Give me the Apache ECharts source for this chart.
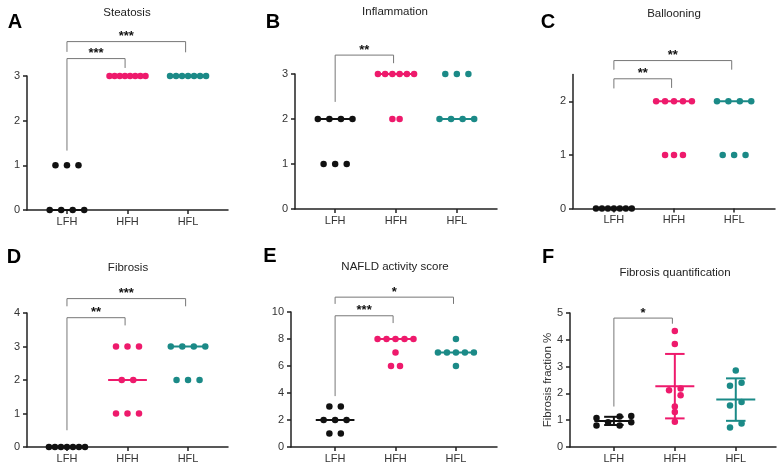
<!DOCTYPE html>
<html>
<head>
<meta charset="utf-8">
<script src="https://cdn.jsdelivr.net/npm/echarts@6/dist/echarts.min.js"></script>
<style>
  html, body { margin: 0; padding: 0; background: #fff; }
  #chart { width: 784px; height: 473px; }
</style>
</head>
<body>
<div id="chart"></div>
<script>
const groups = ['LFH', 'HFH', 'HFL']
const colors = ['#111111', '#ee1a6c', '#1b8a87']
const fontFamily = '"Liberation Sans", Arial, sans-serif'

// scores per group, order LFH, HFH, HFL
const steatosis = [[0, 0, 0, 0, 1, 1, 1], [3, 3, 3, 3, 3, 3, 3, 3], [3, 3, 3, 3, 3, 3, 3]]
const inflammation = [[1, 1, 1, 2, 2, 2, 2], [2, 2, 3, 3, 3, 3, 3, 3], [2, 2, 2, 2, 3, 3, 3]]
const ballooning = [[0, 0, 0, 0, 0, 0, 0], [1, 1, 1, 2, 2, 2, 2, 2], [1, 1, 1, 2, 2, 2, 2]]
const fibrosis = [[0, 0, 0, 0, 0, 0, 0], [1, 1, 1, 2, 2, 3, 3, 3], [2, 2, 2, 3, 3, 3, 3]]
const nafld = [[1, 1, 2, 2, 2, 3, 3], [6, 6, 7, 8, 8, 8, 8, 8], [6, 7, 7, 7, 7, 7, 8]]
const fibrosisPct = [
  [1.08, 0.80, 0.92, 1.14, 0.80, 1.16, 0.92],
  [4.33, 3.84, 2.12, 2.18, 1.93, 1.51, 1.31, 0.94],
  [2.85, 2.29, 2.40, 1.55, 1.68, 0.73, 0.88]
]
// swarm slot of each point in fibrosisPct (left < 0 < right)
const fibrosisPctSlot = [[-3, -3, -1, 1, 1, 3, 3], [0, 0, -1, 1, 1, 0, 0, 0], [0, -1, 1, -1, 1, -1, 1]]

// significance: [group a, group b, stars]
const steatosisSig = [[0, 1, '***'], [0, 2, '***']]
const inflammationSig = [[0, 1, '**']]
const ballooningSig = [[0, 1, '**'], [0, 2, '**']]
const fibrosisSig = [[0, 1, '**'], [0, 2, '***']]
const nafldSig = [[0, 1, '***'], [0, 2, '*']]
const fibrosisPctSig = [[0, 1, '*']]

// layout: grid rect [left, top, width, height], x range, bracket levels [bar, left leg end, right leg end]
const panels = [
  { letter: 'A', title: 'Steatosis', data: steatosis, sig: steatosisSig, yMax: 3, yTicks: [0, 1, 2, 3],
    rect: [27, 76, 201, 134], xr: [-0.66, 2.66], titlePos: [127, 13], letterPos: [15, 22],
    brackets: [[3.39, 1.33, 3.18], [3.77, 3.54, 3.53]] },
  { letter: 'B', title: 'Inflammation', data: inflammation, sig: inflammationSig, yMax: 3, yTicks: [0, 1, 2, 3],
    rect: [295, 74, 202, 135], xr: [-0.66, 2.66], titlePos: [395, 12], letterPos: [273, 22],
    brackets: [[3.42, 2.38, 3.24]] },
  { letter: 'C', title: 'Ballooning', data: ballooning, sig: ballooningSig, yMax: 2.5, yTicks: [0, 1, 2],
    rect: [573, 74.5, 202, 134], xr: [-0.68, 2.68], titlePos: [674, 14], letterPos: [548, 22],
    brackets: [[2.42, 2.24, 2.25], [2.76, 2.59, 2.59]] },
  { letter: 'D', title: 'Fibrosis', data: fibrosis, sig: fibrosisSig, yMax: 4, yTicks: [0, 1, 2, 3, 4],
    rect: [27, 313, 201, 134], xr: [-0.66, 2.66], titlePos: [128, 268], letterPos: [14, 257],
    brackets: [[3.86, 0.5, 3.63], [4.43, 4.2, 4.2]] },
  { letter: 'E', title: 'NAFLD activity score', data: nafld, sig: nafldSig, yMax: 10, yTicks: [0, 2, 4, 6, 8, 10],
    rect: [291, 312, 206, 135], xr: [-0.73, 2.68], titlePos: [395, 267], letterPos: [270, 256],
    brackets: [[9.72, 3.77, 9.18], [11.1, 10.6, 10.6]] },
  { letter: 'F', title: 'Fibrosis quantification', data: fibrosisPct, sig: fibrosisPctSig, yMax: 5, yTicks: [0, 1, 2, 3, 4, 5],
    rect: [570, 313, 206, 134], xr: [-0.72, 2.66], titlePos: [675, 273], letterPos: [548, 257],
    brackets: [[4.81, 1.51, 4.6]], yName: 'Fibrosis fraction %', meanSd: true, slots: fibrosisPctSlot }
]

function median(arr) {
  const s = arr.slice().sort((a, b) => a - b)
  const m = s.length >> 1
  return s.length % 2 ? s[m] : (s[m - 1] + s[m]) / 2
}
function mean(arr) { return arr.reduce((a, b) => a + b, 0) / arr.length }
function sd(arr) {
  const m = mean(arr)
  return Math.sqrt(arr.reduce((a, b) => a + (b - m) * (b - m), 0) / (arr.length - 1))
}

// spread equal scores side by side around the group centre
function spread(values, g) {
  const rows = {}
  values.forEach(v => { (rows[v] = rows[v] || []).push(v) })
  const maxN = Math.max(...Object.values(rows).map(r => r.length))
  const step = maxN > 1 ? Math.min(0.19, 0.595 / (maxN - 1)) : 0
  const pts = []
  Object.keys(rows).forEach(k => {
    const r = rows[k]
    r.forEach((v, i) => pts.push([g + (i - (r.length - 1) / 2) * step, v]))
  })
  return pts
}

const grids = [], xAxes = [], yAxes = [], series = [], graphics = []
const axisColor = '#222'

panels.forEach((p, k) => {
  grids.push({ left: p.rect[0], top: p.rect[1], width: p.rect[2], height: p.rect[3] })
  xAxes.push({
    gridIndex: k, type: 'value', min: p.xr[0], max: p.xr[1],
    splitLine: { show: false },
    axisLine: { onZero: false, lineStyle: { color: axisColor, width: 1.5 } },
    axisTick: { customValues: [0, 1, 2], length: 4, lineStyle: { color: axisColor, width: 1.5 } },
    axisLabel: { customValues: [0, 1, 2], formatter: v => groups[Math.round(v)], margin: 6,
      color: '#333', fontSize: 11, fontFamily: fontFamily }
  })
  yAxes.push({
    gridIndex: k, type: 'value', min: 0, max: p.yMax,
    name: p.yName || '', nameLocation: 'middle', nameGap: 16, nameRotate: 90, nameMoveOverlap: false,
    nameTextStyle: { color: '#333', fontSize: 11.5, fontFamily: fontFamily },
    splitLine: { show: false },
    axisLine: { show: true, onZero: false, lineStyle: { color: axisColor, width: 1.5 } },
    axisTick: { show: true, customValues: p.yTicks, length: 4, lineStyle: { color: axisColor, width: 1.5 } },
    axisLabel: { customValues: p.yTicks, margin: 7, color: '#333', fontSize: 11, fontFamily: fontFamily }
  })

  // centre lines: median, or mean with SD whiskers in F
  const centres = p.data.map((vals, g) => p.meanSd ? [g, mean(vals), sd(vals)] : [g, median(vals), 0])
  series.push({
    type: 'custom', xAxisIndex: k, yAxisIndex: k, z: 2,
    data: centres,
    renderItem: (params, api) => {
      const g = api.value(0), m = api.value(1), s = api.value(2)
      const style = { stroke: colors[g], lineWidth: 2 }
      const a = api.coord([g - 0.32, m]), b = api.coord([g + 0.32, m])
      const children = [{ type: 'line', shape: { x1: a[0], y1: a[1], x2: b[0], y2: b[1] }, style }]
      if (p.meanSd) {
        const top = api.coord([g, m + s]), bot = api.coord([g, m - s])
        const half = (b[0] - a[0]) / 4
        children.push({ type: 'line', shape: { x1: top[0], y1: top[1], x2: bot[0], y2: bot[1] }, style })
        children.push({ type: 'line', shape: { x1: top[0] - half, y1: top[1], x2: top[0] + half, y2: top[1] }, style })
        children.push({ type: 'line', shape: { x1: bot[0] - half, y1: bot[1], x2: bot[0] + half, y2: bot[1] }, style })
      }
      return { type: 'group', children }
    }
  })

  p.data.forEach((vals, g) => {
    const pts = p.slots
      ? vals.map((v, i) => [g + p.slots[g][i] * 0.095, v])
      : spread(vals, g)
    series.push({
      type: 'scatter', xAxisIndex: k, yAxisIndex: k, z: 3, clip: false,
      symbolSize: 6.5, itemStyle: { color: colors[g], opacity: 1 },
      data: pts
    })
  })

  // significance brackets
  series.push({
    type: 'custom', xAxisIndex: k, yAxisIndex: k, z: 1,
    data: p.sig.map((s, i) => [s[0], p.brackets[i][0], s[1], i]),
    renderItem: (params, api) => {
      const s = p.sig[params.dataIndex], b = p.brackets[params.dataIndex]
      const x1 = s[0], x2 = s[1] - 0.04
      const l = api.coord([x1, b[1]]), tl = api.coord([x1, b[0]])
      const tr = api.coord([x2, b[0]]), r = api.coord([x2, b[2]])
      return {
        type: 'group',
        children: [
          { type: 'polyline', shape: { points: [l, tl, tr, r] },
            style: { stroke: '#777', lineWidth: 1, fill: null } },
          { type: 'text', x: (tl[0] + tr[0]) / 2, y: tl[1] - 5,
            style: { text: s[2], fill: '#111', font: 'bold 13px ' + fontFamily,
              align: 'center', verticalAlign: 'middle' } }
        ]
      }
    }
  })

  graphics.push({ type: 'text', x: p.titlePos[0], y: p.titlePos[1],
    style: { text: p.title, fill: '#222', font: '11.5px ' + fontFamily, align: 'center', verticalAlign: 'middle' } })
  graphics.push({ type: 'text', x: p.letterPos[0], y: p.letterPos[1],
    style: { text: p.letter, fill: '#000', font: 'bold 20px ' + fontFamily, align: 'center', verticalAlign: 'middle' } })
})

const chart = echarts.init(document.getElementById('chart'), null, { renderer: 'canvas' })
chart.setOption({
  backgroundColor: '#fff',
  animation: false,
  grid: grids,
  xAxis: xAxes,
  yAxis: yAxes,
  series: series,
  graphic: graphics
})
</script>
</body>
</html>
